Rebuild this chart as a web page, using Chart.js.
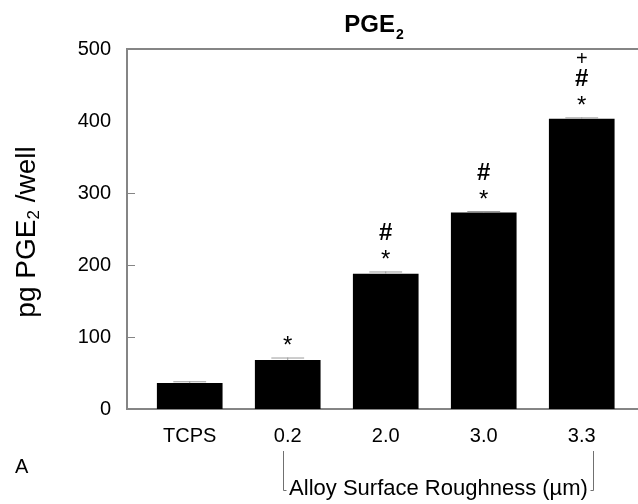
<!DOCTYPE html>
<html>
<head>
<meta charset="utf-8">
<script src="https://cdn.jsdelivr.net/npm/chart.js@4/dist/chart.umd.min.js"></script>
<style>
  html, body { margin: 0; padding: 0; background: #fff; }
  #wrap { width: 638px; height: 504px; }
</style>
</head>
<body>
<div id="wrap"><canvas id="chart" width="638" height="504"></canvas></div>
<script>
// data
const categories = ['TCPS', '0.2', '2.0', '3.0', '3.3'];
const pgeValues = [36, 68, 188, 273, 403];
const pgeErrors = [2.5, 3.5, 3, 2, 2];
const significance = [[], ['*'], ['*', '#'], ['*', '#'], ['*', '#', '+']];
const yTickValues = [0, 100, 200, 300, 400, 500];
const innerTickValues = [100, 200, 300];

const FONT = "'Liberation Sans', Arial, Helvetica, sans-serif";
const AXIS_GREY = '#858585';

// title, axis title, bracket, ticks, error bars, stars
const decorations = {
  id: 'decorations',
  afterDatasetsDraw(chart) {
    const ctx = chart.ctx;
    const area = chart.chartArea;
    const x = chart.scales.x;
    const y = chart.scales.y;
    const bars = chart.getDatasetMeta(0).data;

    ctx.save();

    // error bars (upper half only)
    ctx.strokeStyle = '#9a9a9a';
    ctx.lineWidth = 1;
    bars.forEach((bar, i) => {
      const top = y.getPixelForValue(pgeValues[i] + pgeErrors[i]);
      const half = bar.width / 4;
      ctx.beginPath();
      ctx.moveTo(bar.x, bar.y);
      ctx.lineTo(bar.x, top);
      ctx.moveTo(bar.x - half, top + 0.5);
      ctx.lineTo(bar.x + half, top + 0.5);
      ctx.stroke();
    });

    // significance marks
    const markStyle = {
      '*': { font: '24px ' + FONT, off: 11 },
      '#': { font: 'bold 24px ' + FONT, off: 38 },
      '+': { font: '20px ' + FONT, off: 58 }
    };
    ctx.fillStyle = '#000';
    ctx.textAlign = 'center';
    ctx.textBaseline = 'middle';
    bars.forEach((bar, i) => {
      const top = y.getPixelForValue(pgeValues[i] + pgeErrors[i]);
      significance[i].forEach(m => {
        const s = markStyle[m];
        ctx.font = s.font;
        ctx.fillText(m, bar.x, top - s.off);
      });
    });

    // top frame line
    ctx.strokeStyle = AXIS_GREY;
    ctx.lineWidth = 2;
    ctx.beginPath();
    ctx.moveTo(area.left - 1, area.top);
    ctx.lineTo(chart.width, area.top);
    ctx.stroke();

    // inner ticks on y axis
    ctx.lineWidth = 1;
    innerTickValues.forEach(v => {
      const py = Math.round(y.getPixelForValue(v)) + 0.5;
      ctx.beginPath();
      ctx.moveTo(area.left, py);
      ctx.lineTo(area.left + 8, py);
      ctx.stroke();
    });

    // title PGE2
    ctx.fillStyle = '#000';
    ctx.textAlign = 'left';
    ctx.textBaseline = 'alphabetic';
    ctx.font = 'bold 24px ' + FONT;
    const tMain = ctx.measureText('PGE').width;
    ctx.font = 'bold 14px ' + FONT;
    const tSub = ctx.measureText('2').width;
    const tx = (area.left + area.right) / 2 - 9 - (tMain + tSub) / 2;
    ctx.font = 'bold 24px ' + FONT;
    ctx.fillText('PGE', tx, 32);
    ctx.font = 'bold 14px ' + FONT;
    ctx.fillText('2', tx + tMain + 1, 39);

    // y axis title, rotated
    ctx.save();
    ctx.translate(35, 232);
    ctx.rotate(-Math.PI / 2);
    ctx.font = '28px ' + FONT;
    const a = ctx.measureText('pg PGE').width;
    const c = ctx.measureText(' /well').width;
    ctx.font = '17px ' + FONT;
    const b = ctx.measureText('2').width;
    let px = -(a + b + c) / 2;
    ctx.font = '28px ' + FONT;
    ctx.fillText('pg PGE', px, 0);
    px += a;
    ctx.font = '17px ' + FONT;
    ctx.fillText('2', px, 4);
    px += b;
    ctx.font = '28px ' + FONT;
    ctx.fillText(' /well', px, 0);
    ctx.restore();

    // panel letter
    ctx.font = '20px ' + FONT;
    ctx.fillText('A', 15, 473);

    // bracket under the alloy groups
    const bl = Math.round(x.getPixelForValue(1)) - 4.5;
    const br = Math.round(x.getPixelForValue(4)) + 11.5;
    ctx.strokeStyle = '#707070';
    ctx.lineWidth = 1;
    ctx.beginPath();
    ctx.moveTo(bl, 451);
    ctx.lineTo(bl, 490.5);
    ctx.lineTo(bl + 3, 490.5);
    ctx.moveTo(br, 451);
    ctx.lineTo(br, 490.5);
    ctx.lineTo(br - 3, 490.5);
    ctx.stroke();
    ctx.font = '22px ' + FONT;
    ctx.textAlign = 'center';
    ctx.fillText('Alloy Surface Roughness (\u00b5m)', (bl + br) / 2, 495);

    ctx.restore();
  }
};

new Chart(document.getElementById('chart'), {
  type: 'bar',
  data: {
    datasets: [{
      data: pgeValues.map((v, i) => ({ x: i, y: v })),
      backgroundColor: '#000',
      borderColor: '#000',
      borderWidth: 0,
      barPercentage: 0.67,
      categoryPercentage: 1
    }]
  },
  options: {
    responsive: false,
    animation: false,
    devicePixelRatio: 1,
    layout: { padding: { top: 49, left: 0, right: 0, bottom: 0 } },
    plugins: {
      legend: { display: false },
      title: { display: false },
      tooltip: { enabled: false }
    },
    scales: {
      x: {
        type: 'linear',
        offset: false,
        min: -0.64,
        max: 4.574,
        grid: { display: false, offset: false },
        border: { display: true, color: AXIS_GREY, width: 2 },
        afterBuildTicks: s => { s.ticks = categories.map((c, i) => ({ value: i })); },
        afterFit: s => { s.height = 95; },
        ticks: {
          autoSkip: false,
          maxRotation: 0,
          padding: 7,
          color: '#000',
          font: { family: FONT, size: 20 },
          callback: v => categories[v] ?? ''
        }
      },
      y: {
        min: 0,
        max: 500,
        grid: { display: false },
        border: { display: true, color: AXIS_GREY, width: 2 },
        afterBuildTicks: s => { s.ticks = yTickValues.map(v => ({ value: v })); },
        afterFit: s => { s.width = 127; },
        ticks: {
          padding: 8,
          color: '#000',
          font: { family: FONT, size: 20 }
        }
      }
    }
  },
  plugins: [decorations]
});
</script>
</body>
</html>
